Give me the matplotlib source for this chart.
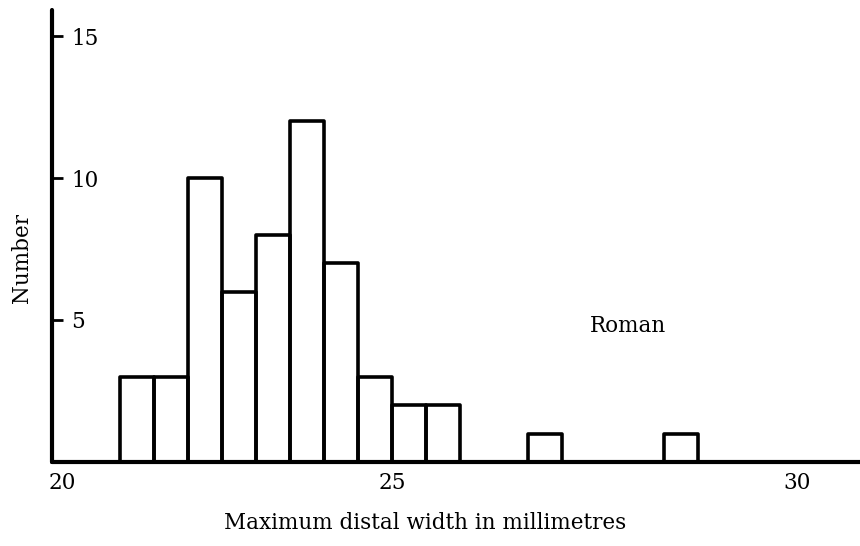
import matplotlib
matplotlib.use("Agg")
import matplotlib.pyplot as plt

# Histogram of maximum distal width (Roman sample), 0.5 mm bins
bin_left = [21.0, 21.5, 22.0, 22.5, 23.0, 23.5, 24.0, 24.5, 25.0, 25.5, 27.0, 29.0]
counts = [3, 3, 10, 6, 8, 12, 7, 3, 2, 2, 1, 1]
bin_width = 0.5

y_ticks = [5, 10, 15]
# the printed "30" sits right of where 30 falls on the bar scale
x_tick_pos = [20.15, 25.0, 30.95]
x_tick_labels = ['20', '25', '30']

plt.rcParams['font.family'] = ['DejaVu Serif']

fig = plt.figure(figsize=(8.6, 5.46), dpi=100)
ax = fig.add_axes([52 / 860, 1 - 462 / 546, 1 - 52 / 860, (462 - 10) / 546])

ax.bar(bin_left, counts, width=bin_width, align='edge', fill=False,
       edgecolor='black', linewidth=2.6, joinstyle='round')

ax.set_xlim(20, 20 + 808 / 68)
ax.set_ylim(0, 452 / 28.4)

for side in ['top', 'right']:
    ax.spines[side].set_visible(False)
for side in ['left', 'bottom']:
    ax.spines[side].set_linewidth(3)
    ax.spines[side].set_capstyle('round')

ax.set_yticks(y_ticks)
ax.set_yticklabels([str(v) for v in y_ticks])
ax.tick_params(axis='y', direction='in', length=8, width=2, pad=-14,
               labelsize=15.5)
for lab in ax.get_yticklabels():
    lab.set_horizontalalignment('left')

ax.set_xticks(x_tick_pos)
ax.set_xticklabels(x_tick_labels)
ax.tick_params(axis='x', length=0, pad=7, labelsize=15.5)

ax.text(28.47, 4.8, 'Roman', ha='center', va='center', fontsize=15.5)

fig.text(22 / 860, 1 - 258 / 546, 'Number', rotation=90, ha='center',
         va='center', fontsize=15.5)
fig.text(425 / 860, 1 - 523 / 546, 'Maximum distal width in millimetres',
         ha='center', va='center', fontsize=15.5)

fig.savefig('out.png', dpi=100)
